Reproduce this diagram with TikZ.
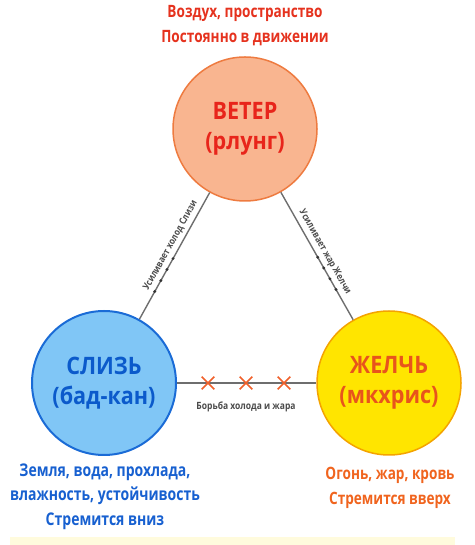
\documentclass[tikz,border=0pt]{standalone}
\usepackage{fontspec}
\setmainfont{Open Sans}
\newfontfamily\circfont{Open Sans}[FakeStretch=0.9]
\newfontfamily\notefont{Open Sans}[FakeStretch=0.8]
\newfontfamily\lblfont{Open Sans}[FakeStretch=0.85]
\usetikzlibrary{calc,shapes.misc}
\definecolor{topfill}{HTML}{F9B590}
\definecolor{topedge}{HTML}{EE7B40}
\definecolor{toptext}{HTML}{E8251B}
\definecolor{topnote}{HTML}{E5321E}
\definecolor{leftfill}{HTML}{80C6F6}
\definecolor{leftedge}{HTML}{1A6BD6}
\definecolor{lefttext}{HTML}{0B5ACB}
\definecolor{leftnote}{HTML}{1760D0}
\definecolor{rightfill}{HTML}{FFE500}
\definecolor{rightedge}{HTML}{F4A300}
\definecolor{righttext}{HTML}{E8541C}
\definecolor{rightnote}{HTML}{F0641E}
\definecolor{conncol}{HTML}{6E6E6E}
\definecolor{lblcol}{HTML}{4A4A4A}
\definecolor{xcol}{HTML}{F0602A}
\definecolor{pale}{HTML}{FFFBDD}
\begin{document}
\begin{tikzpicture}[x=1pt,y=1pt,
  dosha/.style={circle, minimum size=144pt, inner sep=0pt, line width=1.5pt, align=center,
    font=\circfont\bfseries\fontsize{24}{30}\selectfont},
  conn/.style={draw=conncol, line width=1.4pt},
  lbl/.style={text=lblcol, font=\lblfont\bfseries\fontsize{9.5}{11}\selectfont, inner sep=1pt},
  notes/.style={align=center, font=\notefont\bfseries\fontsize{17}{25}\selectfont},
  xmark/.style={draw=xcol, cross out, minimum size=11pt, inner sep=0pt, line width=1.6pt},
  dotm/.style={fill=black!80}
]
\useasboundingbox (0,0) rectangle (474,545);
\fill[pale] (10,0) rectangle (455,8);

\node[dosha, fill=topfill, draw=topedge, text=toptext] (top) at (245,416) {ВЕТЕР\\(рлунг)};
\node[dosha, fill=leftfill, draw=leftedge, text=lefttext, line width=2pt] (left) at (104,162) {СЛИЗЬ\\(бад-кан)};
\node[dosha, fill=rightfill, draw=rightedge, text=righttext] (right) at (389,162) {ЖЕЛЧЬ\\(мкхрис)};

\draw[conn] (left) -- (top);
\draw[conn] (top) -- (right);
\draw[conn] (left) -- (right);

\foreach \t in {0.36,0.403,0.447,0.49}
  \fill[dotm] ($(left.center)!\t!(top.center)$) circle (1.6);
\foreach \t in {0.505,0.547,0.59,0.632}
  \fill[dotm] ($(top.center)!\t!(right.center)$) circle (1.6);

\path (left.center) -- (top.center) node[lbl, pos=0.525, sloped, above=3pt] (lblL) {Усиливает холод Слизи};
\path (top.center) -- (right.center) node[lbl, pos=0.502, sloped, above=3pt] (lblR) {Усиливает жар Желчи};

\node[xmark] (x1) at (208,162) {};
\node[xmark] (x2) at (246,162) {};
\node[xmark] (x3) at (284,162) {};
\node[lbl, font=\lblfont\bfseries\fontsize{10}{12}\selectfont] (lblB) at (246,138) {Борьба холода и жара};

\node[notes, text=topnote] (topnote) at (245,519.5) {Воздух, пространство\\Постоянно в движении};
\node[notes, text=leftnote, font=\notefont\bfseries\fontsize{17.5}{24.5}\selectfont] (leftnote) at (105,48.5) {Земля, вода, прохлада,\\влажность, устойчивость\\Стремится вниз};
\node[notes, text=rightnote] (rightnote) at (390,57.5) {Огонь, жар, кровь\\Стремится вверх};
\end{tikzpicture}
\end{document}
